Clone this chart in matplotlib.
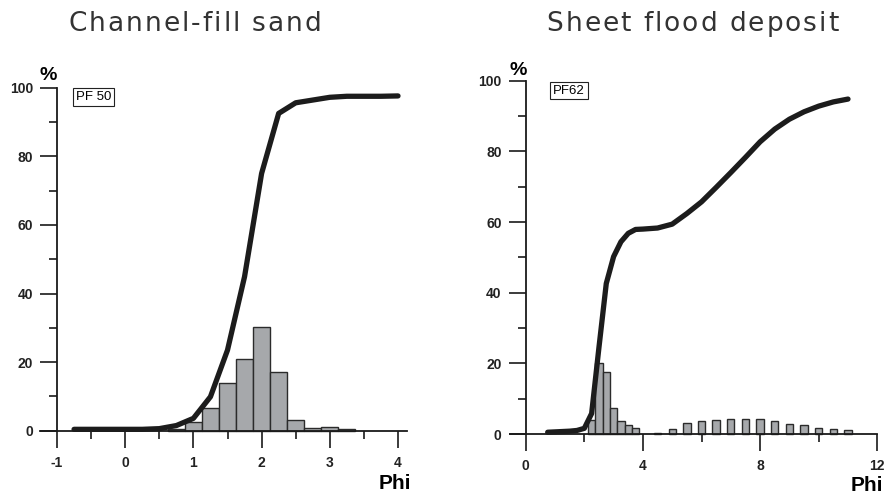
import matplotlib
matplotlib.use("Agg")
import matplotlib.pyplot as plt
from matplotlib.ticker import MultipleLocator, FixedLocator
from matplotlib import font_manager
from matplotlib.ft2font import FT2Font

# ---- data: Channel-fill sand (PF 50) ----
left_bin_centers = [0.75, 1.0, 1.25, 1.5, 1.75, 2.0, 2.25, 2.5, 2.75, 3.0, 3.25]
left_bin_pct = [0.5, 2.4, 6.5, 13.8, 20.8, 30.1, 17.2, 3.0, 0.8, 1.0, 0.4]
left_cum_phi = [-0.75, -0.5, -0.25, 0.0, 0.25, 0.5, 0.75, 1.0, 1.25, 1.5, 1.75,
                2.0, 2.25, 2.5, 2.75, 3.0, 3.25, 3.5, 3.75, 4.0]
left_cum_pct = [0.4, 0.4, 0.4, 0.4, 0.4, 0.6, 1.5, 3.6, 9.9, 23.5, 44.9,
                75.0, 92.5, 95.6, 96.4, 97.2, 97.5, 97.5, 97.5, 97.6]

# ---- data: Sheet flood deposit (PF62) ----
right_bin_centers = [2.25, 2.5, 2.75, 3.0, 3.25, 3.5, 3.75, 4.5, 5.0, 5.5, 6.0, 6.5,
                     7.0, 7.5, 8.0, 8.5, 9.0, 9.5, 10.0, 10.5, 11.0]
right_bin_pct = [4.0, 20.0, 17.5, 7.3, 3.8, 2.5, 1.6, 0.3, 1.3, 3.0, 3.8, 4.1,
                 4.2, 4.2, 4.2, 3.7, 2.8, 2.5, 1.6, 1.3, 1.0]
right_cum_phi = [0.75, 1.0, 1.5, 1.75, 2.0, 2.25, 2.5, 2.75, 3.0, 3.25, 3.5, 3.75,
                 4.0, 4.5, 5.0, 5.5, 6.0, 6.5, 7.0, 7.5, 8.0, 8.5, 9.0, 9.5,
                 10.0, 10.5, 11.0]
right_cum_pct = [0.5, 0.6, 0.8, 1.0, 1.6, 5.8, 24.5, 42.6, 50.2, 54.4, 56.8, 57.9,
                 58.0, 58.3, 59.4, 62.4, 65.7, 69.8, 74.0, 78.3, 82.7, 86.3, 89.1,
                 91.2, 92.8, 94.0, 94.8]

titles = ["Channel-fill sand", "Sheet flood deposit"]
sample_labels = ["PF 50", "PF62"]

W, H = 886, 494
DPI = 100
fig = plt.figure(figsize=(W / DPI, H / DPI), dpi=DPI)

BAR_FC = "#a6a8ab"
BAR_EC = "#2b2b2b"
LINE_C = "#1c1c1c"
AX_C = "#1a1a1a"
TXT = "Liberation Sans"
TITLE_FONT = "DejaVu Sans"


def make_axes(px0, pxunit, x_lo, x_hi, py0, pyunit, y_lo, y_hi):
    left_px = px0 + x_lo * pxunit
    right_px = px0 + x_hi * pxunit
    top_px = py0 - y_hi * pyunit
    bot_px = py0 - y_lo * pyunit
    ax = fig.add_axes([left_px / W, 1 - bot_px / H,
                       (right_px - left_px) / W, (bot_px - top_px) / H])
    ax.set_xlim(x_lo, x_hi)
    ax.set_ylim(y_lo, y_hi)
    return ax


def style(ax, yaxis_x, xline_lo, xline_hi, xmaj, xmin, xlabels):
    for s in ["top", "right"]:
        ax.spines[s].set_visible(False)
    ax.spines["left"].set_position(("data", yaxis_x))
    ax.spines["left"].set_bounds(0, 100)
    ax.spines["bottom"].set_position(("data", 0))
    ax.spines["bottom"].set_bounds(xline_lo, xline_hi)
    for s in ["left", "bottom"]:
        ax.spines[s].set_linewidth(1.3)
        ax.spines[s].set_color(AX_C)
    ax.xaxis.set_major_locator(FixedLocator(xmaj))
    ax.xaxis.set_minor_locator(FixedLocator(xmin))
    ax.set_xticklabels(xlabels)
    ax.yaxis.set_major_locator(MultipleLocator(20))
    ax.yaxis.set_minor_locator(MultipleLocator(10))
    ax.tick_params(axis="both", which="major", direction="out", length=12.3,
                   width=1.2, color=AX_C, labelsize=10)
    ax.tick_params(axis="x", which="major", pad=6)
    ax.tick_params(axis="y", which="major", pad=5)
    ax.tick_params(axis="both", which="minor", direction="out", length=6,
                   width=1.2, color=AX_C)
    for lab in ax.get_xticklabels() + ax.get_yticklabels():
        lab.set_fontfamily(TXT)
        lab.set_fontweight("bold")
        lab.set_color("#222222")
    ax.set_facecolor("none")


def tracked_title(text, cx_px, cy_px, size, tracking_px):
    path = font_manager.findfont(font_manager.FontProperties(family=TITLE_FONT))
    ft = FT2Font(path)
    ft.set_size(size, DPI)
    adv = [ft.load_char(ord(c)).linearHoriAdvance / 65536.0 for c in text]
    total = sum(adv) + tracking_px * (len(text) - 1)
    x = cx_px - total / 2.0
    for c, a in zip(text, adv):
        fig.text(x / W, 1 - cy_px / H, c, fontsize=size, family=TITLE_FONT,
                 color="#333333", ha="left", va="center")
        x += a + tracking_px


# Left panel
axL = make_axes(57 + 68.2 * 1.0, 68.2, -1.3, 4.2, 430.7, 3.43, -3, 103)
axL.bar(left_bin_centers, left_bin_pct, width=0.25, color=BAR_FC,
        edgecolor=BAR_EC, linewidth=1.0, zorder=2)
axL.plot(left_cum_phi, left_cum_pct, color=LINE_C, lw=3.8,
         solid_capstyle="round", solid_joinstyle="round", zorder=3)
style(axL, -1, -1.25, 4.13, [-1, 0, 1, 2, 3, 4],
      [-0.5, 0.5, 1.5, 2.5, 3.5], ["-1", "0", "1", "2", "3", "4"])
axL.text(-1.13, 103.7, "%", fontsize=14, fontweight="bold", family=TXT,
         ha="center", va="center", clip_on=False)
axL.text(3.96, -15.3, "Phi", fontsize=15, fontweight="bold", family=TXT,
         ha="center", va="center", clip_on=False)
axL.text(-0.46, 97.3, sample_labels[0], fontsize=9.5, family=TXT,
         ha="center", va="center",
         bbox=dict(boxstyle="square,pad=0.22", fc="white", ec="#222222", lw=0.8))

# Right panel
axR = make_axes(525.7, 29.3, -0.7, 12.2, 434, 3.533, -3, 103)
axR.bar(right_bin_centers, right_bin_pct, width=0.25, color=BAR_FC,
        edgecolor=BAR_EC, linewidth=1.0, zorder=2)
axR.plot(right_cum_phi, right_cum_pct, color=LINE_C, lw=3.8,
         solid_capstyle="round", solid_joinstyle="round", zorder=3)
style(axR, 0, -0.54, 12, [0, 4, 8, 12], [2, 6, 10], ["0", "4", "8", "12"])
axR.text(-0.26, 102.8, "%", fontsize=14, fontweight="bold", family=TXT,
         ha="center", va="center", clip_on=False)
axR.text(11.65, -14.6, "Phi", fontsize=15, fontweight="bold", family=TXT,
         ha="center", va="center", clip_on=False)
axR.text(1.48, 97.2, sample_labels[1], fontsize=9.5, family=TXT,
         ha="center", va="center",
         bbox=dict(boxstyle="square,pad=0.22", fc="white", ec="#222222", lw=0.8))

tracked_title(titles[0], 195, 24, 19, 2.0)
tracked_title(titles[1], 692.5, 24, 19, 2.0)

fig.savefig("out.png", dpi=DPI)
